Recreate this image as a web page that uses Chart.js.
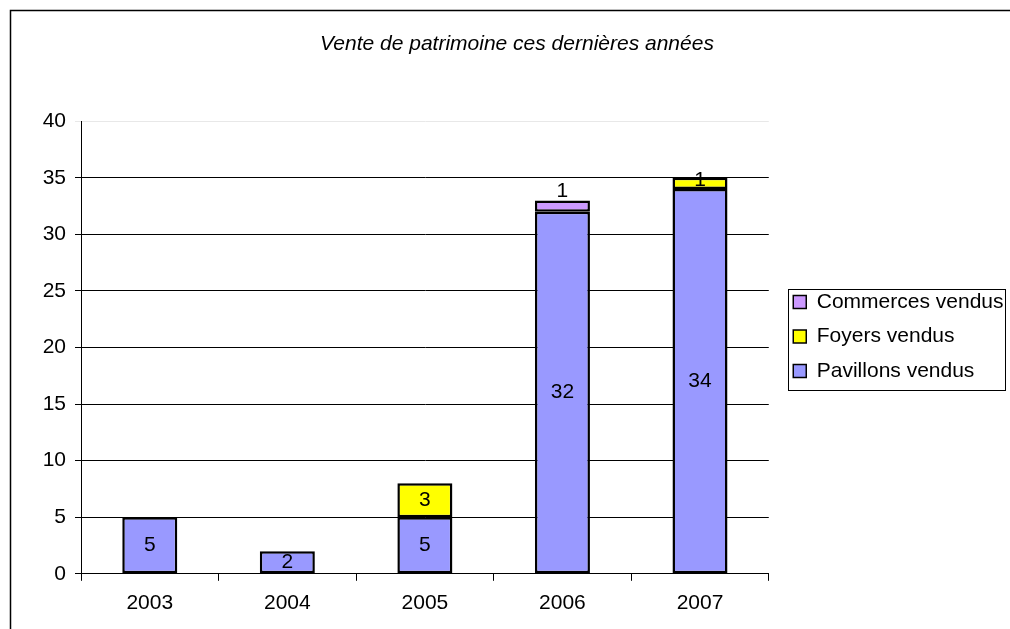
<!DOCTYPE html>
<html>
<head>
<meta charset="utf-8">
<script src="https://cdn.jsdelivr.net/npm/chart.js@4"></script>
<style>
  html, body { margin: 0; padding: 0; background: #fff; }
  #wrap { width: 1010px; height: 629px; }
</style>
</head>
<body>
<div id="wrap"><canvas id="chart" width="1010" height="629"></canvas></div>
<script>
const years = ['2003', '2004', '2005', '2006', '2007']
const pavillons = [5, 2, 5, 32, 34]
const foyers = [0, 0, 3, 0, 1]
const commerces = [0, 0, 0, 1, 0]
const chartTitle = 'Vente de patrimoine ces dernières années'

const FONT = "'Liberation Sans', Arial, sans-serif"
const SIZE = 21

// frame around the whole chart (only top and left edges are visible)
const framePlugin = {
    id: 'frame',
    beforeDraw(chart){
        const ctx = chart.ctx
        ctx.save()
        ctx.strokeStyle = '#000'
        ctx.lineWidth = 1.5
        ctx.strokeRect(10.5, 10.5, 1200, 1200)
        ctx.restore()
    }
}

// border around the legend items only
const legendBox = {
    id: 'legendBox',
    afterDraw(chart){
        const hb = chart.legend.legendHitBoxes
        if (!hb || !hb.length) return
        const left = Math.min(...hb.map(h => h.left)) - 5
        const right = Math.max(...hb.map(h => h.left + h.width)) + 2
        const top = hb[0].top - 3
        const bottom = hb[hb.length - 1].top + hb[hb.length - 1].height + 8
        const ctx = chart.ctx
        ctx.save()
        ctx.strokeStyle = '#000'
        ctx.lineWidth = 1
        ctx.strokeRect(Math.round(left) + 0.5, Math.round(top) + 0.5, Math.round(right - left), Math.round(bottom - top))
        ctx.restore()
    }
}

// values written inside the bar segments
const valueLabels = {
    id: 'valueLabels',
    afterDatasetsDraw(chart){
        const ctx = chart.ctx
        ctx.save()
        ctx.font = SIZE + 'px ' + FONT
        ctx.fillStyle = '#000'
        ctx.textAlign = 'center'
        ctx.textBaseline = 'middle'
        chart.data.datasets.forEach((ds, i) => {
            const meta = chart.getDatasetMeta(i)
            meta.data.forEach((bar, j) => {
                const v = ds.data[j]
                if (!v) return
                let y = (bar.y + bar.base) / 2
                if (ds.label === 'Commerces vendus') y -= 15
                if (ds.label === 'Foyers vendus' && v === 1) y -= 3
                ctx.fillText(v, bar.x, y)
            })
        })
        ctx.restore()
    }
}

const border = c => c.raw ? 2.5 : 0

new Chart(document.getElementById('chart'), {
    type: 'bar',
    data: {
        labels: years,
        datasets: [
            { label: 'Pavillons vendus', data: pavillons, backgroundColor: '#9999FF', borderColor: '#000', borderWidth: border, borderSkipped: false },
            { label: 'Foyers vendus', data: foyers, backgroundColor: '#FFFF00', borderColor: '#000', borderWidth: border, borderSkipped: false },
            { label: 'Commerces vendus', data: commerces, backgroundColor: '#CC99FF', borderColor: '#000', borderWidth: border, borderSkipped: false }
        ]
    },
    options: {
        responsive: false,
        animation: false,
        categoryPercentage: 1,
        barPercentage: 0.4,
        layout: { padding: { left: 20.5, right: -3.5, top: 32, bottom: 3 } },
        plugins: {
            title: {
                display: true,
                text: chartTitle,
                color: '#000',
                font: { family: FONT, size: SIZE, style: 'italic', weight: 'normal', lineHeight: 1.2 },
                padding: { top: 0, bottom: 64 }
            },
            legend: {
                position: 'right',
                reverse: true,
                title: { display: true, text: '', font: { size: 1 }, padding: { top: 7, bottom: 7 } },
                labels: {
                    color: '#000',
                    font: { family: FONT, size: SIZE },
                    boxWidth: 13,
                    boxHeight: 13,
                    padding: 13.5,
                    generateLabels(chart){
                        return Chart.defaults.plugins.legend.labels.generateLabels(chart).map(item => {
                            item.lineWidth = 1.5
                            item.strokeStyle = '#000'
                            return item
                        })
                    }
                }
            },
            tooltip: { enabled: false }
        },
        scales: {
            x: {
                stacked: true,
                grid: { display: true, drawOnChartArea: false, offset: true, color: '#000', tickLength: 7 },
                border: { color: '#000' },
                ticks: { color: '#000', font: { family: FONT, size: SIZE }, padding: 10 }
            },
            y: {
                stacked: true,
                min: 0,
                max: 40,
                afterFit(scale){ scale.width = 60.5 },
                grid: { color: ctx => ctx.tick.value === 40 ? '#e8e8e8' : '#000', tickLength: 6 },
                border: { color: '#000' },
                ticks: { stepSize: 5, color: '#000', font: { family: FONT, size: SIZE }, padding: 9 }
            },
            // hidden spacer between plot and legend
            gap: {
                position: 'right',
                display: false,
                afterFit(scale){ scale.width = 11 }
            }
        }
    },
    plugins: [framePlugin, legendBox, valueLabels]
})
</script>
</body>
</html>
